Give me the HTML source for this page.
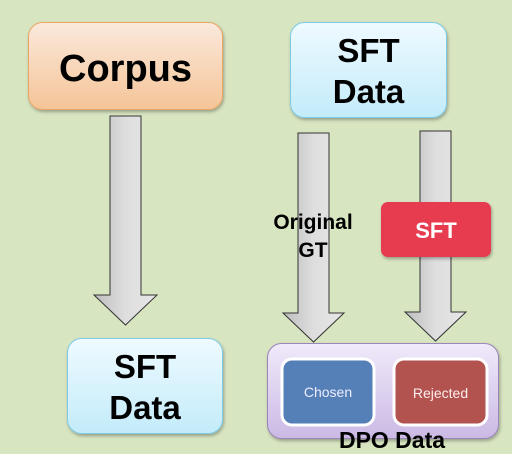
<!DOCTYPE html>
<html><head><meta charset="utf-8"><style>
html,body{margin:0;padding:0;background:#d8e5c1;}
svg{display:block;font-family:"Liberation Sans",sans-serif;}
</style></head><body>
<svg width="512" height="454" viewBox="0 0 512 454" xmlns="http://www.w3.org/2000/svg">
<defs>
<linearGradient id="ar" x1="0" x2="1" y1="0" y2="0"><stop offset="0" stop-color="#bdbdbd"/><stop offset="0.5" stop-color="#dedede"/><stop offset="1" stop-color="#e6e6e6"/></linearGradient>
<linearGradient id="or" x1="0" x2="0" y1="0" y2="1"><stop offset="0" stop-color="#fbe9dc"/><stop offset="1" stop-color="#f5c497"/></linearGradient>
<linearGradient id="bl" x1="0" x2="0" y1="0" y2="1"><stop offset="0" stop-color="#eefaff"/><stop offset="1" stop-color="#c3ebfa"/></linearGradient>
<linearGradient id="pu" x1="0" x2="0" y1="0" y2="1"><stop offset="0" stop-color="#f0eafa"/><stop offset="1" stop-color="#cbb9e4"/></linearGradient>
<filter id="sh"><feDropShadow dx="1" dy="2" stdDeviation="1.5" flood-opacity="0.3"/></filter>
</defs>
<rect width="512" height="454" fill="#d8e5c1"/>
<polygon points="110,116 141,116 141,295 157,295 125.5,325 94,295 110,295" fill="url(#ar)" stroke="#333" stroke-width="1"/>
<polygon points="298,133 329,133 329,313 344,313 313.5,342 283,313 298,313" fill="url(#ar)" stroke="#333" stroke-width="1"/>
<polygon points="420,131 451,131 451,312 466,312 435.5,341 405,312 420,312" fill="url(#ar)" stroke="#333" stroke-width="1"/>
<rect x="28.5" y="22.5" width="194" height="87" rx="14" fill="url(#or)" stroke="#e8a765" filter="url(#sh)"/>
<text x="125.5" y="81" text-anchor="middle" font-size="38" font-weight="bold">Corpus</text>
<rect x="290.5" y="22.5" width="156" height="95" rx="14" fill="url(#bl)" stroke="#7fcbe6" filter="url(#sh)"/>
<text x="368.5" y="62" text-anchor="middle" font-size="33" font-weight="bold">SFT</text>
<text x="368.5" y="103" text-anchor="middle" font-size="33" font-weight="bold">Data</text>
<rect x="67.5" y="338.5" width="155" height="95" rx="14" fill="url(#bl)" stroke="#7fcbe6" filter="url(#sh)"/>
<text x="145" y="378" text-anchor="middle" font-size="33" font-weight="bold">SFT</text>
<text x="145" y="419" text-anchor="middle" font-size="33" font-weight="bold">Data</text>
<text x="313" y="229" text-anchor="middle" font-size="21" font-weight="bold">Original</text>
<text x="313" y="257" text-anchor="middle" font-size="21" font-weight="bold">GT</text>
<rect x="381" y="202" width="110" height="55" rx="7" fill="#e73a4f" filter="url(#sh)"/>
<text x="436" y="238" text-anchor="middle" font-size="22" font-weight="bold" fill="#fff">SFT</text>
<rect x="267.5" y="343.5" width="231" height="95" rx="14" fill="url(#pu)" stroke="#9a86b8" filter="url(#sh)"/>
<rect x="282" y="359" width="92" height="66" rx="10" fill="#557fb7" stroke="#fff" stroke-width="3"/>
<text x="328" y="397" text-anchor="middle" font-size="14" fill="#eef">Chosen</text>
<rect x="394" y="359" width="93" height="66" rx="10" fill="#b25350" stroke="#fff" stroke-width="3"/>
<text x="440.5" y="398" text-anchor="middle" font-size="14" fill="#fee">Rejected</text>
<text x="392" y="448" text-anchor="middle" font-size="23" font-weight="bold">DPO Data</text>
</svg>
</body></html>
